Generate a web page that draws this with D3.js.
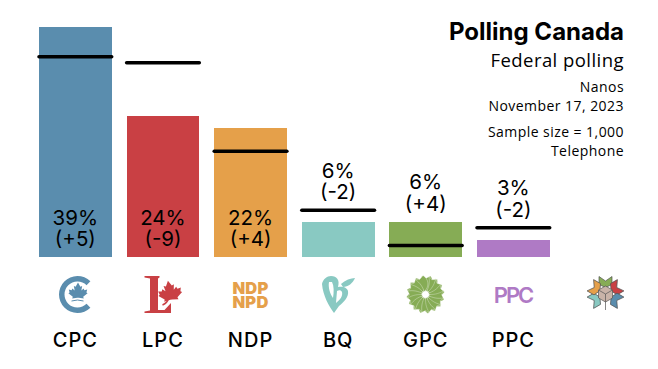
<!DOCTYPE html>
<html>
<head>
<meta charset="utf-8">
<script src="https://cdn.jsdelivr.net/npm/d3@7"></script>
<style>
    html, body { margin: 0; padding: 0; background: #fff; }
    svg { display: block; }
    text { font-family: "Inter", "Noto Sans", sans-serif; fill: #000; }
    .note { font-family: "Open Sans", sans-serif; letter-spacing: 0.45px; }
</style>
</head>
<body>
<div id="chart"></div>
<script>
var parties = ["CPC", "LPC", "NDP", "BQ", "GPC", "PPC", "OTH"];
var current = [39, 24, 22, 6, 6, 3];
var previous = [34, 33, 18, 8, 2, 5];
var changes = ["(+5)", "(-9)", "(+4)", "(-2)", "(+4)", "(-2)"];
var colors = ["#5a8dae", "#c94044", "#e5a04a", "#89c9c2", "#86ac55", "#af7ac5"];
var noteLines = [
    {text: "Nanos", y: 92},
    {text: "November 17, 2023", y: 111},
    {text: "Sample size = 1,000", y: 137},
    {text: "Telephone", y: 156}
];

var width = 658, height = 369;

var svg = d3.select("#chart").append("svg")
    .attr("width", width)
    .attr("height", height);

var x = d3.scaleBand()
    .domain(parties)
    .range([39, 637.3])
    .paddingInner(0.17);

var y = d3.scaleLinear()
    .domain([0, 39])
    .range([257.3, 27.4]);

var rows = current.map(function(d, i) {
    return {party: parties[i], value: d, prev: previous[i], change: changes[i], color: colors[i]};
});

svg.selectAll("rect.bar")
    .data(rows)
    .enter().append("rect")
    .attr("class", "bar")
    .attr("x", function(d) { return x(d.party); })
    .attr("y", function(d) { return y(d.value); })
    .attr("width", x.bandwidth())
    .attr("height", function(d) { return y(0) - y(d.value); })
    .attr("fill", function(d) { return d.color; })
    .attr("shape-rendering", "crispEdges");

svg.selectAll("line.prev")
    .data(rows)
    .enter().append("line")
    .attr("class", "prev")
    .attr("x1", function(d) { return x(d.party); })
    .attr("x2", function(d) { return x(d.party) + x.bandwidth(); })
    .attr("y1", function(d) { return y(d.prev); })
    .attr("y2", function(d) { return y(d.prev); })
    .attr("stroke", "#000")
    .attr("stroke-width", 3.5)
    .attr("stroke-linecap", "round");

// big bars keep the label inside at the bottom, small ones sit above bar or line
function labelBase(d) {
    if (d.value > 15) return 246;
    return y(Math.max(d.value, d.prev)) - 11;
}

var labels = svg.selectAll("text.label")
    .data(rows)
    .enter().append("text")
    .attr("class", "label")
    .attr("text-anchor", "middle")
    .attr("font-size", 20.5)
    .attr("transform", function(d) { return "translate(" + (x(d.party) + x.bandwidth() / 2) + "," + labelBase(d) + ")"; });

labels.append("tspan")
    .attr("x", 0)
    .attr("y", -21.5)
    .text(function(d) { return d.value + "%"; });

labels.append("tspan")
    .attr("x", 0)
    .attr("y", 0)
    .text(function(d) { return d.change; });

svg.selectAll("text.party")
    .data(rows)
    .enter().append("text")
    .attr("class", "party")
    .attr("x", function(d) { return x(d.party) + x.bandwidth() / 2; })
    .attr("y", 347)
    .attr("text-anchor", "middle")
    .attr("font-size", 20)
    .attr("font-weight", 500)
    .attr("letter-spacing", 1)
    .text(function(d) { return d.party; });

// header
svg.append("text")
    .attr("x", 624).attr("y", 40)
    .attr("text-anchor", "end")
    .attr("font-size", 24)
    .attr("font-weight", 700)
    .text("Polling Canada");

svg.append("text")
    .attr("class", "note")
    .attr("x", 624).attr("y", 67)
    .attr("text-anchor", "end")
    .attr("font-size", 18.5)
    .text("Federal polling");

svg.selectAll("text.meta")
    .data(noteLines)
    .enter().append("text")
    .attr("class", "note meta")
    .attr("x", 624)
    .attr("y", function(d) { return d.y; })
    .attr("text-anchor", "end")
    .attr("font-size", 14)
    .text(function(d) { return d.text; });

// logos
var leaf = "M0,-12 L3,-6.5 L5.2,-7.5 L4.2,-2 L7,-4.5 L8,-2.3 L11.5,-3 L10.5,0.5 L12,1.5 L6.5,6 L7.2,8 L1,7.3 L-1,7.3 L-7.2,8 L-6.5,6 L-12,1.5 L-10.5,0.5 L-11.5,-3 L-8,-2.3 L-7,-4.5 L-4.2,-2 L-5.2,-7.5 L-3,-6.5 Z";

function logoAt(cx, cy) {
    return svg.append("g").attr("transform", "translate(" + cx + "," + cy + ")");
}

// CPC
var cpc = logoAt(77.5, 294.5);
cpc.append("path")
    .attr("d", d3.arc().innerRadius(13).outerRadius(18.5).startAngle(0.8).endAngle(Math.PI * 2 - 0.8)())
    .attr("transform", "rotate(90)")
    .attr("fill", colors[0]);
cpc.append("path")
    .attr("d", leaf)
    .attr("transform", "translate(0.5,-2.5) scale(0.8)")
    .attr("fill", colors[0]);
cpc.append("path")
    .attr("d", "M-6,6.5 Q0,4.5 6,6.5")
    .attr("fill", "none")
    .attr("stroke", colors[0])
    .attr("stroke-width", 1);

// LPC
var lpc = logoAt(144.5, 276);
lpc.append("path")
    .attr("d", "M0,0 H15 V1.5 L13.5,2.5 V34 H20 L26.5,27 V37 H0 V35.5 L5.5,34.5 V2.5 L0,1.5 Z")
    .attr("fill", colors[1]);
lpc.append("path")
    .attr("d", leaf)
    .attr("transform", "translate(25.5,16.5) rotate(-10)")
    .attr("fill", colors[1]);
lpc.append("path")
    .attr("d", "M24,22 Q23,27 18,29")
    .attr("fill", "none")
    .attr("stroke", colors[1])
    .attr("stroke-width", 1.5);

// NDP
[["NDP", 293.5], ["NPD", 307.5]].forEach(function(d) {
    svg.append("text")
        .attr("x", 250.5)
        .attr("y", d[1])
        .attr("text-anchor", "middle")
        .attr("font-size", 16.5)
        .attr("font-weight", 900)
        .attr("letter-spacing", 0.2)
        .style("fill", colors[2])
        .text(d[0]);
});

// BQ
var bq = logoAt(322, 276);
bq.append("path")
    .attr("d", "M0,8 C1,3 5,0 9,0 C15,0 18,4 16,11 C20,10 25,11 26,15 C27,21 22,26 17,30 L12,37 C7,30 1,20 0,8 Z M7,6 C6,11 8,18 11,22 C12,16 12,10 10,6 Z M15,15 L14,27 C18,24 21,20 20,16 C19,14 17,14 15,15 Z")
    .attr("fill-rule", "evenodd")
    .attr("fill", colors[3]);
bq.append("path")
    .attr("d", "M19,8 C23,4 29,2 33,2 C31,7 26,11 21,11 Z")
    .attr("fill", colors[3]);

// GPC
var gpc = logoAt(425.5, 294.5);
d3.range(16).forEach(function(i) {
    gpc.append("path")
        .attr("d", "M0,-3 C7,-6 9,-13 5,-18.5 L0,-16 L-4,-18.5 C0,-12 0,-8 0,-3 Z")
        .attr("transform", "rotate(" + (i * 22.5) + ")")
        .attr("fill", colors[4])
        .attr("stroke", "#fff")
        .attr("stroke-width", 0.3);
});
gpc.append("circle").attr("r", 3).attr("fill", "#fff");

// PPC
svg.append("text")
    .attr("x", 513)
    .attr("y", 303)
    .attr("text-anchor", "middle")
    .attr("font-size", 22)
    .attr("font-weight", 600)
    .attr("letter-spacing", -2)
    .style("fill", colors[5])
    .text("PPC");

// Polling Canada mark
var mark = logoAt(605.5, 294);
var markColors = ["#86ac55", "#c94044", "#5a8dae", null, "#89c9c2", "#e5a04a"];
markColors.forEach(function(c, i) {
    if (!c) return;
    mark.append("path")
        .attr("d", "M-6.5,-17.5 L0,-13 L6.5,-17.5 L6.5,-9.5 L0,-6.5 L-6.5,-9.5 Z")
        .attr("transform", "rotate(" + (i * 60) + ")")
        .attr("fill", c)
        .attr("stroke", "#555")
        .attr("stroke-width", 0.7);
});
mark.append("path")
    .attr("d", "M0,-8 L7,-4 V4 L0,8 L-7,4 V-4 Z")
    .attr("fill", "#c9b3a8")
    .attr("stroke", "#555")
    .attr("stroke-width", 0.7);
mark.append("path")
    .attr("d", "M0,0 V16 M0,0 L7,-4 M0,0 L-7,-4")
    .attr("fill", "none")
    .attr("stroke", "#555")
    .attr("stroke-width", 0.7);
</script>
</body>
</html>
